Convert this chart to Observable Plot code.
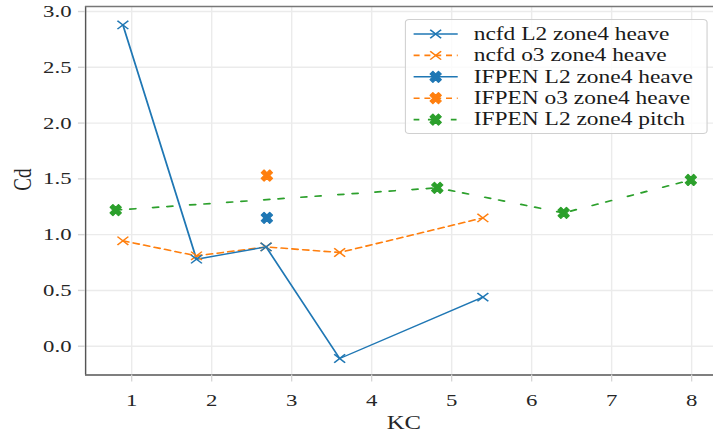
<!DOCTYPE html>
<html><head><meta charset="utf-8">
<script src="https://cdn.jsdelivr.net/npm/d3@7"></script>
<script src="https://cdn.jsdelivr.net/npm/@observablehq/plot@0.6"></script>
<style>
html,body{margin:0;padding:0;background:#fff;overflow:hidden}
#wrap{position:relative;width:548px;height:436px;transform:scaleX(1.30109);transform-origin:0 0}
#legend{position:absolute;left:310.5px;top:19px}
</style></head><body><div id="wrap"></div>
<script>
// ---- data ----
const xTicks = [1, 2, 3, 4, 5, 6, 7, 8];
const yTicks = [0, 0.5, 1, 1.5, 2, 2.5, 3];
const xLabel = "KC";
const yLabel = "Cd";
const seriesNames = ["ncfd L2 zone4 heave", "ncfd o3 zone4 heave", "IFPEN L2 zone4 heave", "IFPEN o3 zone4 heave", "IFPEN L2 zone4 pitch"];
const kcNcfdL2 = [0.89, 1.81, 2.68, 3.6, 5.39];
const cdNcfdL2 = [2.88, 0.78, 0.89, -0.11, 0.44];
const kcNcfdO3 = [0.89, 1.81, 2.68, 3.6, 5.39];
const cdNcfdO3 = [0.945, 0.81, 0.89, 0.84, 1.15];
const kcIfpenL2Heave = [2.69];
const cdIfpenL2Heave = [1.15];
const kcIfpenO3Heave = [2.69];
const cdIfpenO3Heave = [1.53];
const kcIfpenL2Pitch = [0.8, 4.82, 6.4, 7.99];
const cdIfpenL2Pitch = [1.22, 1.42, 1.195, 1.49];
const xDomain = [0.424, 8.275];
const yDomain = [-0.258, 3.045];

// ---- styles ----
const blue = "#1f77b4", orange = "#ff7f0e", green = "#2ca02c";
const S = 1.30109; // horizontal stretch of the whole figure
const xMarker = {draw(ctx, size) {const r = Math.sqrt(size / Math.PI); ctx.moveTo(-r, -r); ctx.lineTo(r, r); ctx.moveTo(-r, r); ctx.lineTo(r, -r);}};
const XPTS = [[0.5,-1],[1,-0.5],[0.5,0],[1,0.5],[0.5,1],[0,0.5],[-0.5,1],[-1,0.5],[-0.5,0],[-1,-0.5],[-0.5,-1],[0,-0.5]];
const xFilled = {draw(ctx, size) {const r = Math.sqrt(size / Math.PI); const w = r / S; XPTS.forEach(([a, b], i) => i ? ctx.lineTo(a * w, b * r) : ctx.moveTo(a * w, b * r)); ctx.closePath();}};

const toRows = (xs, ys) => xs.map((x, i) => ({kc: x, cd: ys[i]}));
const dNcfdL2 = toRows(kcNcfdL2, cdNcfdL2);
const dNcfdO3 = toRows(kcNcfdO3, cdNcfdO3);
const dIfL2H = toRows(kcIfpenL2Heave, cdIfpenL2Heave);
const dIfO3H = toRows(kcIfpenO3Heave, cdIfpenO3Heave);
const dIfL2P = toRows(kcIfpenL2Pitch, cdIfpenL2Pitch);

const dashO = "4.6 3.7", dashG = "4.4 6.6 4.4 13.2";
const gridC = "#ebebeb", tickC = "#d6d6d6", spineC = "#555";
const textC = "#262626";

const chart = Plot.plot({
  width: 548, height: 436,
  marginLeft: 65.3, marginRight: 0, marginTop: 6, marginBottom: 61.5,
  style: {fontFamily: "'Liberation Serif', serif", fontSize: "17.5px", color: textC, background: "transparent", overflow: "hidden"},
  x: {domain: xDomain},
  y: {domain: yDomain},
  marks: [
    Plot.gridX(xTicks, {stroke: gridC, strokeOpacity: 1, strokeWidth: 1.1}),
    Plot.gridY(yTicks, {stroke: gridC, strokeOpacity: 1, strokeWidth: 1.4}),
    Plot.line(dIfL2P, {x: "kc", y: "cd", stroke: green, strokeWidth: 1.7, strokeDasharray: dashG}),
    Plot.line(dNcfdO3, {x: "kc", y: "cd", stroke: orange, strokeWidth: 1.6, strokeDasharray: dashO}),
    Plot.line(dNcfdL2, {x: "kc", y: "cd", stroke: blue, strokeWidth: 1.4}),
    Plot.dot(dNcfdO3, {x: "kc", y: "cd", symbol: xMarker, r: 4.2, stroke: orange, fill: "none", strokeWidth: 1.3}),
    Plot.dot(dNcfdL2, {x: "kc", y: "cd", symbol: xMarker, r: 4.2, stroke: blue, fill: "none", strokeWidth: 1.3}),
    Plot.dot(dIfL2H, {x: "kc", y: "cd", symbol: xFilled, r: 5.6, fill: blue, stroke: blue, strokeWidth: 1, strokeLinejoin: "round"}),
    Plot.dot(dIfO3H, {x: "kc", y: "cd", symbol: xFilled, r: 5.6, fill: orange, stroke: orange, strokeWidth: 1, strokeLinejoin: "round"}),
    Plot.dot(dIfL2P, {x: "kc", y: "cd", symbol: xFilled, r: 5.6, fill: green, stroke: green, strokeWidth: 1, strokeLinejoin: "round"}),
    Plot.ruleX([xDomain[0]], {stroke: spineC, strokeWidth: 1.1}),
    Plot.ruleY([yDomain[0]], {stroke: spineC, strokeWidth: 1.4}),
    Plot.ruleY([yDomain[1]], {stroke: "#777", strokeWidth: 1.4}),
    Plot.axisX(xTicks, {tickSize: 7, tickPadding: 11.5, stroke: tickC, strokeWidth: 1, fontSize: 17.5, fill: textC, label: null, tickFormat: d3.format("d")}),
    Plot.axisY(yTicks, {tickSize: 5.4, tickPadding: 5.4, stroke: tickC, strokeWidth: 1.4, fontSize: 17.5, fill: textC, label: null, tickFormat: d3.format(".1f")}),
    Plot.text([yLabel], {text: d => d, frameAnchor: "left", dx: -48.4, rotate: -90, fontSize: 19, lineAnchor: "middle", fill: textC}),
    Plot.text([xLabel], {text: d => d, frameAnchor: "bottom", dy: 47.5, dx: 3.2, fontSize: 19, lineAnchor: "middle", fill: textC})
  ]
});
const wrap = document.getElementById("wrap");
wrap.appendChild(chart);

// ---- legend ----
const legendItems = [
  {name: seriesNames[0], color: blue, dash: null, sym: xMarker, r: 4.2, filled: false},
  {name: seriesNames[1], color: orange, dash: dashO, sym: xMarker, r: 4.2, filled: false},
  {name: seriesNames[2], color: blue, dash: null, sym: xFilled, r: 5.6, filled: true},
  {name: seriesNames[3], color: orange, dash: dashO, sym: xFilled, r: 5.6, filled: true},
  {name: seriesNames[4], color: green, dash: dashG, sym: xFilled, r: 5.6, filled: true}
];
const LW = 233, LH = 115, rowH = 21.4, row0 = 15;
const lsvg = d3.select(wrap).append("svg").attr("id", "legend").attr("width", LW).attr("height", LH)
  .style("font-family", "'Liberation Serif', serif").style("font-size", "18px");
lsvg.append("rect").attr("x", 0.5).attr("y", 0.5).attr("width", LW - 1).attr("height", LH - 1)
  .attr("rx", 3).attr("fill", "#fff").attr("fill-opacity", 0.8).attr("stroke", "#d0d0d0");
legendItems.forEach((it, i) => {
  const g = lsvg.append("g").attr("transform", `translate(0,${row0 + i * rowH})`);
  g.append("line").attr("x1", 6.9).attr("x2", 40.8).attr("stroke", it.color).attr("stroke-width", it.dash ? 1.6 : 1.4)
    .attr("stroke-dasharray", it.dash);
  g.append("path").attr("transform", "translate(23.85,0)")
    .attr("d", d3.symbol().type(it.sym).size(Math.PI * it.r * it.r)())
    .attr("fill", it.filled ? it.color : "none").attr("stroke", it.color)
    .attr("stroke-width", it.filled ? 1 : 1.3).attr("stroke-linejoin", "round");
  g.append("text").attr("x", 53.1).attr("dy", "0.32em").attr("fill", "#1a1a1a").text(it.name);
});
</script></body></html>
